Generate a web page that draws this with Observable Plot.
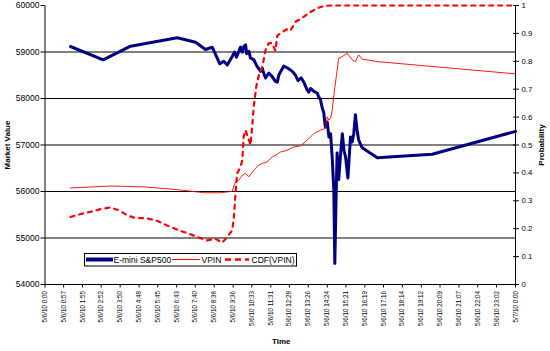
<!DOCTYPE html>
<html><head><meta charset="utf-8">
<script src="https://cdn.jsdelivr.net/npm/d3@7"></script>
<script src="https://cdn.jsdelivr.net/npm/@observablehq/plot@0.6"></script>
<style>
html,body{margin:0;padding:0;background:#fff;}
#chart{position:relative;width:550px;height:351px;font-family:"Liberation Sans",Arial,sans-serif;}
#legend{position:absolute;left:0;top:0;}
</style></head>
<body><div id="chart"></div>
<script>
// ---- data (minutes since 5/6/10 0:00) ----
const xTickLabels = ["5/6/10 0:00","5/6/10 0:57","5/6/10 1:55","5/6/10 2:52","5/6/10 3:50","5/6/10 4:48","5/6/10 5:45","5/6/10 6:43","5/6/10 7:40","5/6/10 8:38","5/6/10 9:36","5/6/10 10:33","5/6/10 11:31","5/6/10 12:28","5/6/10 13:26","5/6/10 14:24","5/6/10 15:21","5/6/10 16:19","5/6/10 17:16","5/6/10 18:14","5/6/10 19:12","5/6/10 20:09","5/6/10 21:07","5/6/10 22:04","5/6/10 23:02","5/7/10 0:00"];
const leftTicks = [54000,55000,56000,57000,58000,59000,60000];
const gridValues = [55000,56000,57000,58000,59000];
const probTicks = [0,0.1,0.2,0.3,0.4,0.5,0.6,0.7,0.8,0.9,1];
const seriesNames = ["E-mini S&P500","VPIN","CDF(VPIN)"];

const emTime = [78,178,262,405,461,491,512,535,547,558,573,580,586,598,604,608,614,617,624,629,634,639,649,660,665,670,675,685,695,705,711,716,731,746,757,767,774,784,792,802,807,813,823,833,838,843,848,853,858,864,869,874,879,884,887,891,894,899,904,910,915,920,927,935,940,945,950,955,960,971,1017,1185,1440];
const emValue = [59118,58832,59125,59305,59210,59054,59103,58746,58802,58724,58903,58996,58888,59103,58996,59118,59155,58961,59012,58869,58853,58834,58690,58583,58655,58531,58440,58548,58476,58368,58351,58512,58700,58640,58583,58500,58387,58445,58351,58190,58136,58215,58154,58118,58030,57975,57815,57700,57386,57493,57171,57243,56741,56026,54450,55897,56828,56255,56741,57243,56885,56741,56291,57171,57064,57243,57650,57322,57107,56940,56728,56800,57293];

const vpinTime = [78,200,302,405,486,537,573,583,593,604,614,624,639,654,665,680,695,710,721,741,761,782,802,823,843,858,864,869,874,879,886,899,910,925,940,950,955,960,971,1017,1440];
const vpinValue = [0.346,0.353,0.350,0.340,0.329,0.329,0.334,0.368,0.374,0.392,0.398,0.386,0.410,0.428,0.434,0.440,0.457,0.466,0.475,0.481,0.493,0.497,0.517,0.541,0.553,0.559,0.601,0.589,0.595,0.625,0.697,0.811,0.817,0.829,0.805,0.799,0.811,0.823,0.808,0.799,0.755];

const cdfTime = [78,114,144,170,200,226,252,277,308,338,359,384,415,445,471,496,522,542,558,573,578,583,588,598,604,608,614,619,629,634,639,647,656,665,675,685,695,705,711,726,741,751,767,787,807,833,853,874,1440];
const cdfValue = [0.242,0.254,0.262,0.270,0.276,0.266,0.248,0.238,0.238,0.230,0.220,0.206,0.192,0.180,0.168,0.158,0.164,0.150,0.170,0.194,0.240,0.326,0.398,0.421,0.446,0.530,0.553,0.535,0.500,0.565,0.640,0.712,0.757,0.780,0.840,0.865,0.865,0.838,0.892,0.905,0.915,0.910,0.942,0.955,0.973,0.990,0.998,1.0,1.0];

// ---- build ----
const Y0 = 54000, Y1 = 60000;
const probToY = p => Y0 + p * (Y1 - Y0);
function parseLabel(s){
  const [date, time] = s.split(" ");
  const day = +date.split("/")[1];
  const [h, m] = time.split(":").map(Number);
  return (day - 6) * 1440 + h * 60 + m;
}
const xTicks = xTickLabels.map(parseLabel);
const xLabelMap = new Map(xTicks.map((t, i) => [t, xTickLabels[i]]));
const rightTickValues = probTicks.map(probToY);

const em = emTime.map((t, i) => ({t, v: emValue[i]}));
const vpin = vpinTime.map((t, i) => ({t, p: vpinValue[i]}));
const cdf = cdfTime.map((t, i) => ({t, p: cdfValue[i]}));

const NAVY = "#000080", RED = "#ff0000";
const FONT = "Liberation Sans, Arial, sans-serif";

const chart = Plot.plot({
  width: 550, height: 351,
  marginLeft: 44.5, marginRight: 35, marginTop: 5, marginBottom: 67,
  style: {fontFamily: FONT, fontSize: "8.5px", background: "#fff", color: "#000"},
  x: {domain: [0, 1440]},
  y: {domain: [Y0, Y1]},
  marks: [
    Plot.ruleY(gridValues, {stroke: "#000", strokeWidth: 1}),
    Plot.axisY({ticks: leftTicks, tickSize: 4, tickPadding: 1.5, tickFormat: d => String(d), label: null, fontSize: 8.5}),
    Plot.axisY({anchor: "right", ticks: rightTickValues, tickSize: 3, tickPadding: 3,
      tickFormat: d => String(+((d - Y0) / (Y1 - Y0)).toFixed(1)), label: null, fontSize: 7.8}),
    Plot.ruleY(rightTickValues, {x1: 1434, x2: 1440, stroke: "#000"}),
    Plot.axisX({ticks: xTicks, tickFormat: d => xLabelMap.get(d), tickRotate: -90, tickSize: 3.5, tickPadding: 3, fontSize: 6.3, label: null}),
    Plot.ruleX([0, 1440], {stroke: "#000", strokeWidth: 1}),
    Plot.ruleY([Y0], {stroke: "#000", strokeWidth: 1}),
    Plot.line(em, {x: "t", y: "v", stroke: NAVY, strokeWidth: 3, strokeLinejoin: "round"}),
    Plot.line(vpin, {x: "t", y: d => probToY(d.p), stroke: RED, strokeWidth: 0.9}),
    Plot.line(cdf, {x: "t", y: d => probToY(d.p), stroke: RED, strokeWidth: 2.2, strokeDasharray: "4,5"}),
    Plot.text(["Market Value"], {frameAnchor: "left", dx: -38, rotate: -90, fontWeight: "bold", fontSize: 8, textAnchor: "middle"}),
    Plot.text(["Probability"], {frameAnchor: "right", dx: 26, rotate: -90, fontWeight: "bold", fontSize: 8, textAnchor: "middle"}),
    Plot.text(["Time"], {frameAnchor: "bottom", dy: 59, dx: 1, fontWeight: "bold", fontSize: 8, textAnchor: "middle"})
  ]
});
const host = document.getElementById("chart");
host.appendChild(chart);

// legend overlay
const lg = d3.select(host).append("svg").attr("id", "legend")
  .attr("width", 550).attr("height", 351).style("pointer-events", "none");
lg.append("rect").attr("x", 84.5).attr("y", 253.5).attr("width", 212).attr("height", 12.5)
  .attr("fill", "#fff").attr("stroke", "#000").attr("stroke-width", 1);
const items = [
  {x1: 86, x2: 113, tx: 113.5, stroke: NAVY, w: 4, dash: null},
  {x1: 172, x2: 200, tx: 201.5, stroke: RED, w: 1, dash: null},
  {x1: 225, x2: 249, tx: 251.5, stroke: RED, w: 2.5, dash: "6,4"}
];
items.forEach((it, i) => {
  const ln = lg.append("line").attr("x1", it.x1).attr("x2", it.x2).attr("y1", 259.5).attr("y2", 259.5)
    .attr("stroke", it.stroke).attr("stroke-width", it.w);
  if (it.dash) ln.attr("stroke-dasharray", it.dash);
  lg.append("text").attr("x", it.tx).attr("y", 262.6).attr("font-family", FONT).attr("font-size", 8.5)
    .attr("fill", "#000").text(seriesNames[i]);
});
</script></body></html>
